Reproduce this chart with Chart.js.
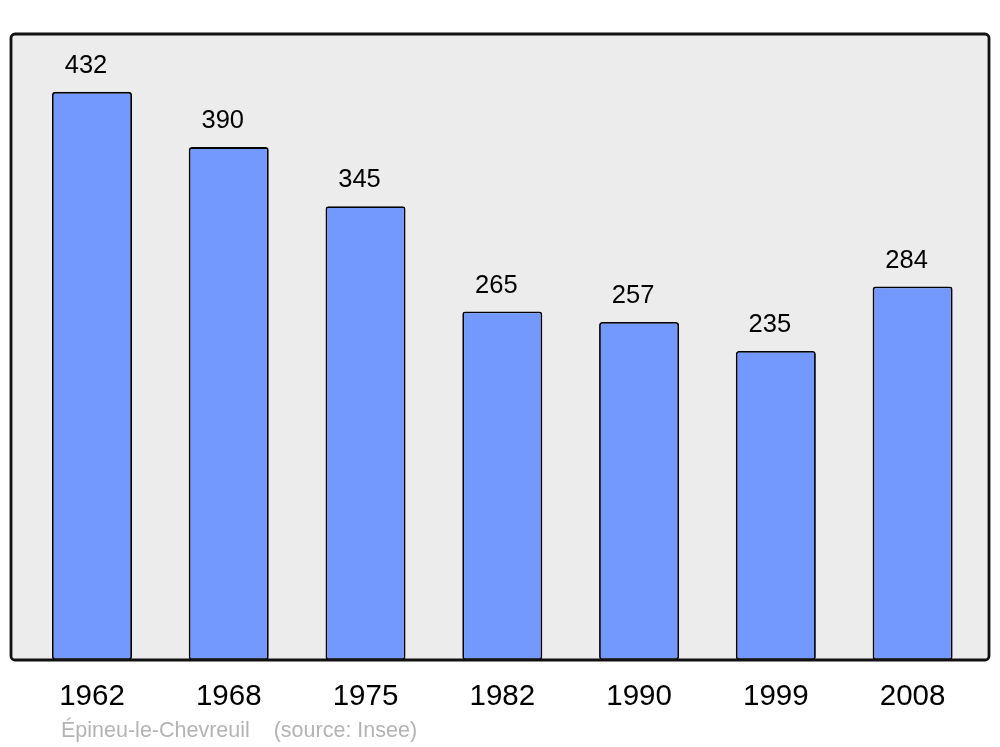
<!DOCTYPE html>
<html>
<head>
<meta charset="utf-8">
<script src="https://cdn.jsdelivr.net/npm/chart.js@4.4.1/dist/chart.umd.min.js"></script>
<style>
  html, body { margin: 0; padding: 0; background: #fff; }
  #wrap { width: 1000px; height: 747px; position: relative; }
</style>
</head>
<body>
<div id="wrap"><canvas id="popChart"></canvas></div>
<script>
const YEARS = ["1962", "1968", "1975", "1982", "1990", "1999", "2008"];
const POPULATION = [432, 390, 345, 265, 257, 235, 284];
const Y_MAX = 476;
const SOURCE_TEXT = "Épineu-le-Chevreuil    (source: Insee)";

const FONT = "'Liberation Sans', Arial, sans-serif";

const frameBox = {
  id: "frameBox",
  beforeDraw(chart) {
    const { ctx } = chart;
    ctx.save();
    ctx.beginPath();
    ctx.roundRect(11, 34, 978, 626, 4);
    ctx.fillStyle = "#ececec";
    ctx.fill();
    ctx.restore();
  },
  afterDatasetsDraw(chart) {
    const { ctx } = chart;
    ctx.save();
    ctx.beginPath();
    ctx.roundRect(11, 34, 978, 626, 4);
    ctx.lineWidth = 2.8;
    ctx.strokeStyle = "#111";
    ctx.stroke();

    // value labels above bars
    const meta = chart.getDatasetMeta(0);
    ctx.font = `25.5px ${FONT}`;
    ctx.fillStyle = "#000";
    ctx.textAlign = "center";
    ctx.textBaseline = "middle";
    meta.data.forEach((bar, i) => {
      ctx.fillText(String(POPULATION[i]), bar.x - 6, bar.y - 26);
    });

    // source line
    ctx.font = `21.5px ${FONT}`;
    ctx.fillStyle = "#b3b3b3";
    ctx.textAlign = "left";
    ctx.fillText(SOURCE_TEXT, 61, 731);
    ctx.restore();
  },
};

new Chart(document.getElementById("popChart"), {
  type: "bar",
  data: {
    labels: YEARS,
    datasets: [
      {
        data: POPULATION,
        backgroundColor: "#7399ff",
        borderColor: "#000",
        borderWidth: 1.8,
        borderRadius: 3,
        borderSkipped: false,
        barPercentage: 0.585,
        categoryPercentage: 1,
      },
    ],
  },
  options: {
    responsive: true,
    maintainAspectRatio: false,
    animation: false,
    layout: { padding: { left: 23.6, right: 19, top: 34, bottom: 0 } },
    plugins: {
      legend: { display: false },
      tooltip: { enabled: false },
    },
    scales: {
      x: {
        grid: { display: false, drawTicks: false },
        border: { display: false },
        ticks: { color: "#000", font: { family: FONT, size: 29.5 }, padding: 19, maxRotation: 0 },
        afterFit: (s) => { s.height = 87; },
      },
      y: { display: false, min: 0, max: Y_MAX },
    },
  },
  plugins: [frameBox],
});
</script>
</body>
</html>
